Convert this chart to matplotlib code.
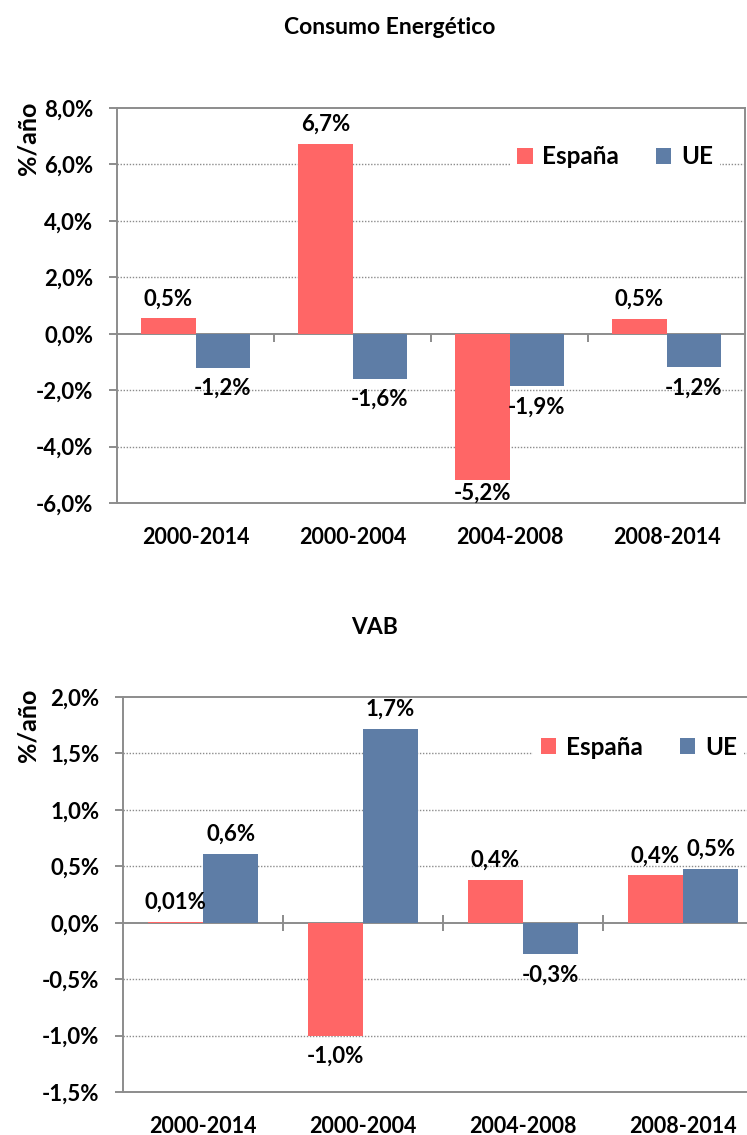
import matplotlib
matplotlib.use("Agg")
import matplotlib.pyplot as plt
import numpy as np
from matplotlib.ticker import FuncFormatter, FixedLocator

plt.rcParams['font.family'] = ['Lato', 'DejaVu Sans']
plt.rcParams['font.weight'] = 'bold'

# Data
periodos = ["2000-2014", "2000-2004", "2004-2008", "2008-2014"]

consumo_espana = [0.54, 6.73, -5.2, 0.52]
consumo_ue = [-1.2, -1.6, -1.86, -1.18]

vab_espana = [0.01, -1.0, 0.38, 0.42]
vab_ue = [0.61, 1.72, -0.28, 0.48]

consumo_ticks = [-6, -4, -2, 0, 2, 4, 6, 8]
vab_ticks = [-1.5, -1.0, -0.5, 0.0, 0.5, 1.0, 1.5, 2.0]

COLOR_ES = "#FF6666"
COLOR_UE = "#5E7DA6"
GRID = "#8C8C8C"
FS_Y = 16
FS_X = 15.5
FS_VAL = 16


def pct(v, pos=None):
    return f"{v:.1f}".replace(".", ",") + "%"


def value_label(v):
    dec = 2 if 0 < abs(v) < 0.05 else 1
    return f"{v:.{dec}f}".replace(".", ",") + "%"


def panel(ax, es, ue, ticks, zero_dir, zero_len, legend_pos):
    x = np.arange(len(periodos))
    w = 0.345
    ax.bar(x - w / 2, es, w, color=COLOR_ES, label="España", zorder=3)
    ax.bar(x + w / 2, ue, w, color=COLOR_UE, label="UE", zorder=3)
    lo, hi = ticks[0], ticks[-1]
    ax.set_ylim(lo, hi)
    ax.set_xlim(-0.5, len(periodos) - 0.5)
    ax.yaxis.set_major_locator(FixedLocator(ticks))
    ax.yaxis.set_major_formatter(FuncFormatter(pct))
    for t in ticks[1:-1]:
        if t != 0:
            ax.axhline(t, color=GRID, lw=1.0, ls=(0, (1, 1.2)), zorder=1)

    for s in ax.spines.values():
        s.set_color(GRID)
        s.set_linewidth(1.4)
    ax.tick_params(axis='y', length=6, color=GRID, width=1.4, pad=11,
                   labelsize=FS_Y)
    ax.set_xticks(x, periodos)
    ax.tick_params(axis='x', length=0, pad=17, labelsize=FS_X)

    # zero line with category separators
    frac = (0 - lo) / (hi - lo)
    sec = ax.secondary_xaxis(frac)
    sec.set_xticks(x[:-1] + 0.5)
    sec.set_xticklabels([])
    sec.tick_params(direction=zero_dir, length=zero_len, color=GRID, width=1.4)
    for s in sec.spines.values():
        s.set_visible(False)
    sec.spines['bottom'].set_visible(True)
    sec.spines['bottom'].set_color(GRID)
    sec.spines['bottom'].set_linewidth(1.4)

    # value labels
    for xs, vals in ((x - w / 2, es), (x + w / 2, ue)):
        for xi, v in zip(xs, vals):
            if v >= 0:
                ax.annotate(value_label(v), (xi, v), xytext=(0, 14),
                            textcoords="offset points", ha="center",
                            va="center", fontsize=FS_VAL, zorder=5)
            elif (v - lo) / (hi - lo) < 0.08:
                ax.annotate(value_label(v), (xi, lo), xytext=(0, 7),
                            textcoords="offset points", ha="center",
                            va="center", fontsize=FS_VAL, zorder=5)
            else:
                ax.annotate(value_label(v), (xi, v), xytext=(0, -15),
                            textcoords="offset points", ha="center",
                            va="center", fontsize=FS_VAL, zorder=5)

    leg = ax.legend(loc="center", bbox_to_anchor=legend_pos, ncol=2,
                    frameon=True, facecolor="white", edgecolor="none",
                    framealpha=1, fontsize=17.5, handlelength=0.65,
                    handleheight=0.65, handletextpad=0.4, columnspacing=1.5,
                    borderpad=0.3, fancybox=False)
    leg.set_zorder(6)


W, H = 747, 1135
fig = plt.figure(figsize=(W / 100, H / 100), dpi=100)

ax1 = fig.add_axes([117 / W, 1 - 503 / H, 628 / W, 395 / H])
panel(ax1, consumo_espana, consumo_ue, consumo_ticks, "out", 6,
      (0.793, 0.876))

ax2 = fig.add_axes([123 / W, 1 - 1092 / H, 640 / W, 395 / H])
panel(ax2, vab_espana, vab_ue, vab_ticks, "inout", 12, (0.806, 0.873))

fig.text(390 / W, 1 - 28 / H, "Consumo Energético", ha="center",
         va="center", fontsize=16.5)
fig.text(375 / W, 1 - 628 / H, "VAB", ha="center", va="center",
         fontsize=16.5)
fig.text(28 / W, 1 - 138 / H, "%/año", rotation=90, ha="center",
         va="center", fontsize=18)
fig.text(28 / W, 1 - 725 / H, "%/año", rotation=90, ha="center",
         va="center", fontsize=18)

fig.savefig("out.png", dpi=100, facecolor="white")
